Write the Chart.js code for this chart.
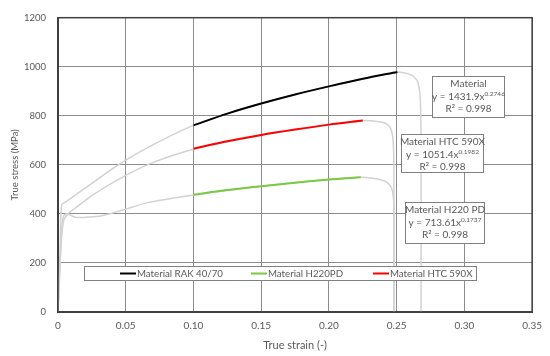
<!DOCTYPE html>
<html>
<head>
<meta charset="utf-8">
<script src="https://cdn.jsdelivr.net/npm/chart.js@4/dist/chart.umd.min.js"></script>
<style>
  html, body { margin: 0; padding: 0; background: #fff; }
  #wrap { width: 550px; height: 356px; }
</style>
</head>
<body>
<div id="wrap"><canvas id="myChart" width="550" height="356"></canvas></div>
<script>
// fitted power-law segments
var rakX = [0.1, 0.125, 0.15, 0.175, 0.2, 0.225, 0.2505];
var rakY = [761, 809, 850, 887, 920, 951, 979];
var htcX = [0.1, 0.125, 0.15, 0.175, 0.2, 0.225];
var htcY = [666, 696, 722, 744, 764, 781];
var h220X = [0.1, 0.125, 0.15, 0.175, 0.2, 0.2235];
var h220Y = [478, 497, 513, 527, 540, 549];

// measured tensile curves (light grey)
var rakRawX = [0, 0.0015, 0.0027, 0.006, 0.02, 0.0445, 0.0678, 0.1, 0.15, 0.2, 0.25, 0.258, 0.263, 0.266, 0.2675, 0.268, 0.268];
var rakRawY = [0, 250, 437, 450, 505, 600, 675, 761, 850, 920, 978, 972, 958, 930, 860, 700, 0];
var htcRawX = [0, 0.002, 0.004, 0.007, 0.012, 0.025, 0.045, 0.068, 0.1, 0.15, 0.2, 0.225, 0.237, 0.243, 0.246, 0.2475, 0.248, 0.248];
var htcRawY = [0, 250, 370, 398, 420, 475, 542, 605, 664, 721, 763, 781, 776, 766, 742, 690, 560, 0];
var h220RawX = [0, 0.002, 0.0035, 0.006, 0.009, 0.013, 0.02, 0.03, 0.038, 0.046, 0.068, 0.1, 0.15, 0.2, 0.2235, 0.232, 0.24, 0.2445, 0.247, 0.248, 0.248];
var h220RawY = [0, 250, 380, 400, 395, 386, 386, 390, 400, 413, 448, 477, 513, 540, 549, 545, 536, 521, 492, 420, 0];

var seriesNames = ["Material RAK 40/70", "Material H220PD", "Material HTC 590X"];
var seriesColors = ["#000000", "#7ac943", "#ff0000"];
var rawColor = "#d2d2d2";

var fits = [
  ["Material", "y = 1431.9x", "0.2746", "R\u00b2 = 0.998"],
  ["Material HTC 590X", "y = 1051.4x", "0.1982", "R\u00b2 = 0.998"],
  ["Material H220 PD", "y = 713.61x", "0.1737", "R\u00b2 = 0.998"]
];

function pts(xs, ys) {
  return xs.map(function (x, i) { return { x: x, y: ys[i] }; });
}

var FONT = "Lato";
var TXT = "#595959";

var boxesPlugin = {
  id: "boxes",
  afterDatasetsDraw: function (chart) {
    var a = chart.chartArea, ctx = chart.ctx;
    ctx.save();
    ctx.strokeStyle = "#404040";
    ctx.lineWidth = 1.5;
    ctx.strokeRect(a.left, a.top, a.right - a.left, a.bottom - a.top);
    ctx.restore();
  },
  afterDraw: function (chart) {
    var ctx = chart.ctx;
    ctx.save();
    // legend box
    ctx.fillStyle = "#fff";
    ctx.fillRect(84, 266, 393, 14);
    ctx.strokeStyle = "#808080";
    ctx.lineWidth = 1;
    ctx.strokeRect(84.5, 266.5, 392, 14);
    var starts = [120, 251, 373];
    ctx.font = "9.7px " + FONT;
    ctx.textBaseline = "middle";
    ctx.textAlign = "left";
    for (var i = 0; i < 3; i++) {
      ctx.strokeStyle = seriesColors[i];
      ctx.lineWidth = 2;
      ctx.beginPath();
      ctx.moveTo(starts[i], 273.5);
      ctx.lineTo(starts[i] + 16, 273.5);
      ctx.stroke();
      ctx.fillStyle = TXT;
      ctx.fillText(seriesNames[i], starts[i] + 17, 274);
    }
    // equation boxes
    var rects = [[432, 76, 72, 41], [401, 134, 82, 38], [405, 202, 79, 41]];
    for (var k = 0; k < 3; k++) {
      var r = rects[k], f = fits[k];
      ctx.fillStyle = "#fff";
      ctx.fillRect(r[0], r[1], r[2], r[3]);
      ctx.strokeStyle = "#808080";
      ctx.lineWidth = 1;
      ctx.strokeRect(r[0] + 0.5, r[1] + 0.5, r[2], r[3]);
      var cx = r[0] + r[2] / 2 + 0.5;
      var y0 = r[1] + 8;
      ctx.fillStyle = TXT;
      ctx.textAlign = "center";
      ctx.font = "10px " + FONT;
      ctx.fillText(f[0], cx, y0);
      ctx.fillText(f[3], cx, y0 + 25);
      var w1 = ctx.measureText(f[1]).width;
      ctx.font = "6.5px " + FONT;
      var w2 = ctx.measureText(f[2]).width;
      var sx = cx - (w1 + w2) / 2;
      ctx.textAlign = "left";
      ctx.font = "10px " + FONT;
      ctx.fillText(f[1], sx, y0 + 12.5);
      ctx.font = "6.5px " + FONT;
      ctx.fillText(f[2], sx + w1, y0 + 9.5);
    }
    ctx.restore();
  }
};

new Chart("myChart", {
  type: "scatter",
  data: {
    datasets: [
      { label: seriesNames[0], data: pts(rakX, rakY), borderColor: seriesColors[0], borderWidth: 2 },
      { label: seriesNames[1], data: pts(h220X, h220Y), borderColor: seriesColors[1], borderWidth: 2 },
      { label: seriesNames[2], data: pts(htcX, htcY), borderColor: seriesColors[2], borderWidth: 2 },
      { label: "raw RAK", data: pts(rakRawX, rakRawY), borderColor: rawColor, borderWidth: 1.5 },
      { label: "raw HTC", data: pts(htcRawX, htcRawY), borderColor: rawColor, borderWidth: 1.5 },
      { label: "raw H220", data: pts(h220RawX, h220RawY), borderColor: rawColor, borderWidth: 1.5 }
    ]
  },
  options: {
    responsive: false,
    animation: false,
    showLine: true,
    elements: { point: { radius: 0, hoverRadius: 0 }, line: { tension: 0.3, fill: false } },
    layout: { padding: { top: 12, right: 17, left: 0, bottom: 0 } },
    plugins: { legend: { display: false }, tooltip: { enabled: false } },
    scales: {
      x: {
        type: "linear",
        min: 0, max: 0.35,
        ticks: { stepSize: 0.05, padding: 8, color: TXT, font: { family: FONT, size: 10 } },
        grid: { color: "#8c8c8c", drawTicks: false },
        border: { color: "#404040", width: 2 },
        title: { display: true, text: "True strain (-)", color: TXT, font: { family: FONT, size: 11 }, padding: { top: 2 } },
        afterFit: function (s) { s.height = 44; }
      },
      y: {
        min: 0, max: 1200,
        ticks: { stepSize: 200, padding: 12, color: TXT, font: { family: FONT, size: 9.5 },
                 callback: function (v) { return String(v); } },
        grid: { color: "#8c8c8c", drawTicks: false },
        border: { color: "#404040", width: 2 },
        title: { display: true, text: "True stress (MPa)", color: TXT, font: { family: FONT, size: 9.5 }, padding: { top: 9, bottom: 0 } },
        afterFit: function (s) { s.width = 58; }
      }
    }
  },
  plugins: [boxesPlugin]
});
</script>
</body>
</html>
